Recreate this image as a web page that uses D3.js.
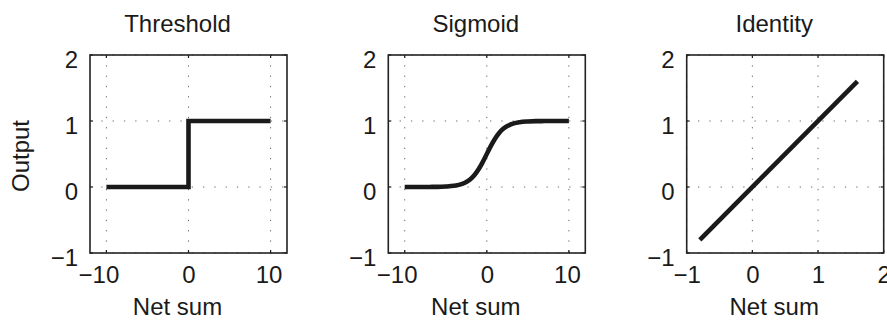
<!DOCTYPE html>
<html>
<head>
<meta charset="utf-8">
<script src="https://cdn.jsdelivr.net/npm/d3@7"></script>
<style>
  html, body { margin: 0; padding: 0; background: #fff; }
  svg { display: block; font-family: "Liberation Sans", Arial, Helvetica, sans-serif; }
</style>
</head>
<body>
<svg id="chart" width="887" height="320"></svg>
<script>
// ---- data ----
const titles = ["Threshold", "Sigmoid", "Identity"];
const xLabel = "Net sum";
const yLabel = "Output";

const xDomains = [[-12, 12], [-12, 12], [-1, 2]];
const yDomain = [-1, 2];
const xTicks = [[-10, 0, 10], [-10, 0, 10], [-1, 0, 1, 2]];
const yTicks = [-1, 0, 1, 2];

const thresholdX = [-10, 0, 0, 10];
const thresholdY = [0, 0, 1, 1];

const sigmoidX = [-10, -9, -8, -7, -6, -5, -4, -3, -2.5, -2, -1.5, -1, -0.5, 0, 0.5, 1, 1.5, 2, 2.5, 3, 4, 5, 6, 7, 8, 9, 10];
const sigmoidY = [0, 0, 0, 0.001, 0.002, 0.007, 0.018, 0.047, 0.076, 0.119, 0.182, 0.269, 0.378, 0.5, 0.622, 0.731, 0.818, 0.881, 0.924, 0.953, 0.982, 0.993, 0.998, 0.999, 1, 1, 1];

const identityX = [-0.8, 1.6];
const identityY = [-0.8, 1.6];

const seriesX = [thresholdX, sigmoidX, identityX];
const seriesY = [thresholdY, sigmoidY, identityY];
const curves = [d3.curveLinear, d3.curveMonotoneX, d3.curveLinear];

// ---- layout ----
const panelLeft = [90, 388.3, 686.7];
const plotW = 197, plotH = 198, plotTop = 55;
const ink = "#1a1a1a";

const svg = d3.select("#chart");

titles.forEach((t, i) => {
  const g = svg.append("g").attr("transform", `translate(${panelLeft[i]},${plotTop})`);
  const x = d3.scaleLinear().domain(xDomains[i]).range([0, plotW]);
  const y = d3.scaleLinear().domain(yDomain).range([plotH, 0]);

  // dotted grid
  g.append("g").selectAll("line").data(xTicks[i]).join("line")
    .attr("x1", d => x(d)).attr("x2", d => x(d))
    .attr("y1", 0).attr("y2", plotH)
    .attr("stroke", "#6a6a6a").attr("stroke-width", 1).attr("stroke-dasharray", "1.3,9");
  g.append("g").selectAll("line").data(yTicks).join("line")
    .attr("y1", d => y(d)).attr("y2", d => y(d))
    .attr("x1", 0).attr("x2", plotW)
    .attr("stroke", "#6a6a6a").attr("stroke-width", 1).attr("stroke-dasharray", "1.3,10");

  // inward tick marks on all sides
  const tk = 3;
  const tg = g.append("g").attr("stroke", ink).attr("stroke-width", 1.2);
  xTicks[i].forEach(d => {
    tg.append("line").attr("x1", x(d)).attr("x2", x(d)).attr("y1", plotH).attr("y2", plotH - tk);
    tg.append("line").attr("x1", x(d)).attr("x2", x(d)).attr("y1", 0).attr("y2", tk);
  });
  yTicks.forEach(d => {
    tg.append("line").attr("y1", y(d)).attr("y2", y(d)).attr("x1", 0).attr("x2", tk);
    tg.append("line").attr("y1", y(d)).attr("y2", y(d)).attr("x1", plotW).attr("x2", plotW - tk);
  });

  // axes (labels only)
  const xa = g.append("g").attr("transform", `translate(0,${plotH})`)
    .call(d3.axisBottom(x).tickValues(xTicks[i]).tickSize(0).tickFormat(d3.format("d")));
  xa.select(".domain").remove();
  xa.selectAll("text").attr("y", 30).attr("dy", null)
    .attr("dx", d => (d === -10 ? -8 : d === 10 ? -2 : 0))
    .attr("font-size", 24).attr("fill", ink).attr("font-family", null);

  const ya = g.append("g")
    .call(d3.axisLeft(y).tickValues(yTicks).tickSize(0).tickFormat(d3.format("d")));
  ya.select(".domain").remove();
  ya.selectAll("text").attr("x", -12).attr("y", 12.5).attr("dy", null)
    .attr("font-size", 24).attr("fill", ink).attr("font-family", null);

  // frame
  g.append("rect").attr("x", 0).attr("y", 0).attr("width", plotW).attr("height", plotH)
    .attr("fill", "none").attr("stroke", "#222").attr("stroke-width", 1.6);

  // data line
  const pts = seriesX[i].map((xv, k) => [xv, seriesY[i][k]]);
  g.append("path").datum(pts)
    .attr("d", d3.line().x(d => x(d[0])).y(d => y(d[1])).curve(curves[i]))
    .attr("fill", "none").attr("stroke", ink).attr("stroke-width", 4.6)
    .attr("stroke-linejoin", "miter").attr("stroke-linecap", "butt");

  // title
  g.append("text").attr("x", plotW / 2 - 11).attr("y", 31.7 - plotTop)
    .attr("text-anchor", "middle").attr("font-size", 24).attr("fill", ink).text(t);

  // x label
  g.append("text").attr("x", plotW / 2 - 11).attr("y", 315 - plotTop)
    .attr("text-anchor", "middle").attr("font-size", 24).attr("fill", ink).text(xLabel);
});

// y label (first panel only)
svg.append("text")
  .attr("transform", `translate(29,${plotTop + plotH / 2 + 2}) rotate(-90)`)
  .attr("text-anchor", "middle").attr("font-size", 24).attr("fill", ink).text(yLabel);
</script>
</body>
</html>
